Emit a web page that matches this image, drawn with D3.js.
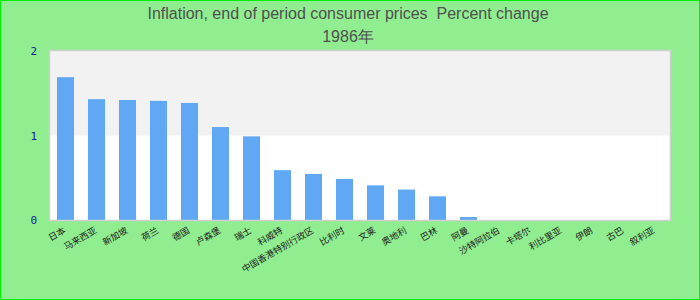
<!DOCTYPE html>
<html>
<head>
<meta charset="utf-8">
<script src="https://cdn.jsdelivr.net/npm/d3@7"></script>
<style>
  body { margin: 0; background: #fff; }
  text { font-family: "Liberation Sans", Arial, sans-serif; }
</style>
</head>
<body>
<div id="chart"></div>
<script>
// chart data
var countries = ["日本", "马来西亚", "新加坡", "荷兰", "德国", "卢森堡", "瑞士", "科威特",
  "中国香港特别行政区", "比利时", "文莱", "奥地利", "巴林", "阿曼", "沙特阿拉伯",
  "卡塔尔", "利比里亚", "伊朗", "古巴", "叙利亚"];
var values = [1.69, 1.43, 1.42, 1.41, 1.385, 1.10, 0.99, 0.59, 0.545, 0.485,
  0.41, 0.36, 0.28, 0.035, 0, 0, 0, 0, 0, 0];
var yTicks = [0, 1, 2];
var titleLines = ["Inflation, end of period consumer prices  Percent change", "1986年"];

var width = 700
var height = 300
var margin = {top: 51, right: 30, bottom: 80, left: 50}
var plotW = width - margin.left - margin.right
var plotH = height - margin.top - margin.bottom

var svg = d3.select('#chart')
  .append('svg')
  .attr('width', width)
  .attr('height', height)

// background + outer frame
svg.append("rect")
  .attr("width", width)
  .attr("height", height)
  .style("fill", "#90ee90")
  .style("stroke", "#00ee00")
  .style("stroke-width", 2)

var x = d3.scaleBand()
  .domain(countries)
  .range([0, plotW])
  .paddingInner(0.45)
  .paddingOuter(0.225)

var y = d3.scaleLinear()
  .domain([0, 2])
  .range([plotH, 0])

var chart = svg.append('g')
  .attr("transform", "translate(" + margin.left + "," + margin.top + ")")

// plot area: white with a grey band between 1 and 2
chart.append("rect")
  .attr("width", plotW)
  .attr("height", plotH)
  .style("fill", "#fff")

chart.append("rect")
  .attr("y", y(2))
  .attr("width", plotW)
  .attr("height", y(1) - y(2))
  .style("fill", "#f2f2f2")

// bars
chart.selectAll(".bar")
  .data(values)
  .enter()
  .append("rect")
  .attr("class", "bar")
  .attr("x", function (d, i) { return x(countries[i]); })
  .attr("width", x.bandwidth())
  .attr("y", function (d) { return y(d); })
  .attr("height", function (d) { return plotH - y(d); })
  .style("fill", "#60a8f4")

// plot border
chart.append("rect")
  .attr("x", -0.5)
  .attr("y", -0.5)
  .attr("width", plotW + 1)
  .attr("height", plotH + 1)
  .style("fill", "none")
  .style("stroke", "#d0d0d0")
  .style("stroke-width", 1.5)

// y axis (labels only)
var yAxis = chart.append("g")
  .attr("transform", "translate(-10,0)")
  .call(d3.axisLeft(y).tickValues(yTicks).tickSize(0).tickFormat(d3.format("d")))
yAxis.select(".domain").remove()
yAxis.selectAll("text")
  .style("font-family", "'DejaVu Sans Mono', monospace")
  .style("font-size", "11px")
  .style("fill", "#1a1a9a")

// x axis (rotated labels)
var xAxis = chart.append("g")
  .attr("transform", "translate(0," + plotH + ")")
  .call(d3.axisBottom(x).tickSize(0))
xAxis.select(".domain").remove()
xAxis.selectAll("text")
  .style("font-family", "'Noto Sans CJK SC', sans-serif")
  .style("font-size", "9px")
  .style("fill", "#222")
  .style("text-anchor", "end")
  .attr("dx", "-0.6em")
  .attr("dy", "0.9em")
  .attr("transform", "rotate(-30)")

// title
svg.selectAll(".title")
  .data(titleLines)
  .enter()
  .append("text")
  .attr("class", "title")
  .attr("x", 348)
  .attr("y", function (d, i) { return 19 + i * 23; })
  .style("text-anchor", "middle")
  .style("white-space", "pre")
  .style("font-size", "16px")
  .style("fill", "#505050")
  .text(function (d) { return d; })
</script>
</body>
</html>
